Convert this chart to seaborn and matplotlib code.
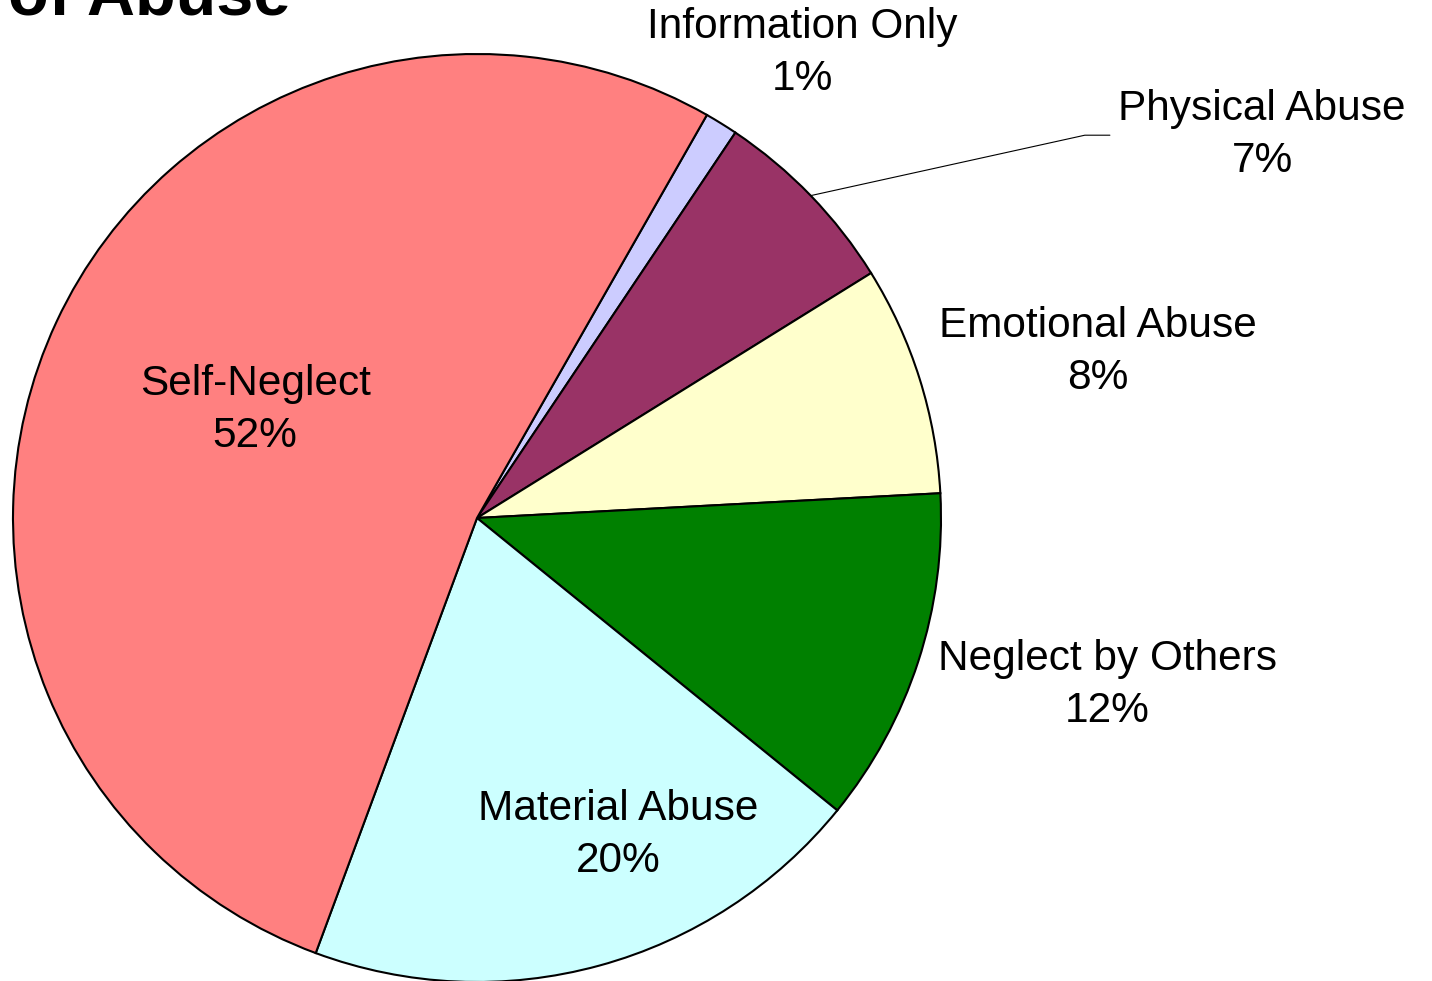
import numpy as np
import matplotlib
matplotlib.use("Agg")
import matplotlib.pyplot as plt
import seaborn as sns

# Types of abuse - share of cases (%)
categories = ["Information Only", "Physical Abuse", "Emotional Abuse",
              "Neglect by Others", "Material Abuse", "Self-Neglect"]
shares = [1.15, 6.75, 8.0, 11.7, 19.8, 52.6]
pct_labels = ["1%", "7%", "8%", "12%", "20%", "52%"]
colors = ["#CCCCFF", "#993366", "#FFFFCC", "#008000", "#CCFFFF", "#FF8080"]

sns.set_theme(style="white")
plt.rcParams["font.family"] = ["Liberation Sans", "DejaVu Sans"]

fig = plt.figure(figsize=(14.32, 9.81), dpi=100)
ax = fig.add_axes([0, 0, 1, 1])

wedges, _ = ax.pie(shares, colors=colors, startangle=60.3, counterclock=False,
                   radius=1.0, center=(0, 0),
                   wedgeprops=dict(edgecolor="black", linewidth=1.5))

# map axes so pie center/radius sit where the original has them
ax.set_xlim(-477 / 464, (1432 - 477) / 464)
ax.set_ylim((518 - 981) / 464, 518 / 464)
ax.set_aspect("auto")
ax.axis("off")

# label positions (data coords)
label_pos = [(0.702, 1.002), (1.692, 0.825), (1.338, 0.358),
             (1.358, -0.360), (0.304, -0.683), (-0.478, 0.233)]
for cat, pct, pos in zip(categories, pct_labels, label_pos):
    ax.text(pos[0], pos[1], f"{cat}\n{pct}", ha="center", va="center",
            fontsize=30.5, color="black", linespacing=1.38)

# leader line for Physical Abuse
w = wedges[1]
mid = np.deg2rad((w.theta1 + w.theta2) / 2)
x0, y0 = np.cos(mid), np.sin(mid)
ax.plot([x0, 1.310, 1.364], [y0, 0.825, 0.825], color="black", lw=0.8)

fig.text(290 / 1432, 1 - 15 / 981, "Types of Abuse", ha="right", va="baseline",
         fontsize=48, fontweight="bold", color="black")

fig.savefig("out.png", dpi=100)
